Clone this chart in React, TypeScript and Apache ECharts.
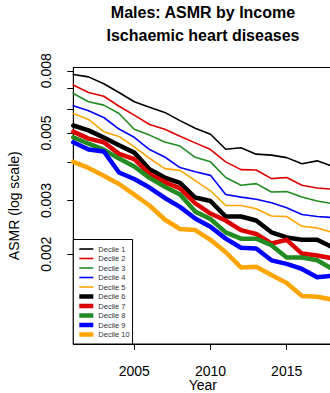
import React, { useEffect, useRef } from "react";
import * as echarts from "echarts";

const years = [2001, 2002, 2003, 2004, 2005, 2006, 2007, 2008, 2009, 2010, 2011, 2012, 2013, 2014, 2015, 2016, 2017, 2018];

const decile1 = [0.00778, 0.00764, 0.00725, 0.00679, 0.00633, 0.00607, 0.00584, 0.00549, 0.00518, 0.00495, 0.00442, 0.00447, 0.00426, 0.00423, 0.00415, 0.00396, 0.00405, 0.00389];
const decile2 = [0.00718, 0.00679, 0.0066, 0.00612, 0.00572, 0.00533, 0.00514, 0.00488, 0.00464, 0.00441, 0.00402, 0.00379, 0.00378, 0.00354, 0.00357, 0.00337, 0.0033, 0.00327];
const decile3 = [0.00674, 0.00633, 0.00617, 0.00579, 0.00514, 0.00492, 0.00467, 0.00453, 0.00416, 0.00402, 0.00357, 0.00337, 0.00341, 0.0032, 0.00321, 0.00308, 0.00299, 0.00293];
const decile4 = [0.00614, 0.00591, 0.00562, 0.00515, 0.00484, 0.00441, 0.00417, 0.00385, 0.00373, 0.00363, 0.00314, 0.00308, 0.00303, 0.00295, 0.00284, 0.0027, 0.00266, 0.00264];
const decile5 = [0.00579, 0.00554, 0.00505, 0.00487, 0.0045, 0.00413, 0.00382, 0.00377, 0.00349, 0.00323, 0.00289, 0.00289, 0.00282, 0.00267, 0.00266, 0.00247, 0.00244, 0.00236];
const decile6 = [0.00529, 0.0051, 0.00483, 0.00456, 0.00431, 0.0038, 0.00357, 0.00343, 0.00307, 0.00299, 0.00266, 0.00266, 0.00258, 0.00236, 0.00227, 0.00223, 0.00223, 0.00211];
const decile7 = [0.00505, 0.00479, 0.00466, 0.00427, 0.0041, 0.00367, 0.00345, 0.00329, 0.00294, 0.00272, 0.00258, 0.0024, 0.00233, 0.00217, 0.00223, 0.00201, 0.00198, 0.00194];
const decile8 = [0.00484, 0.00461, 0.00441, 0.00412, 0.00388, 0.00356, 0.00333, 0.00314, 0.00276, 0.00261, 0.00236, 0.00225, 0.00225, 0.00214, 0.00195, 0.00195, 0.00191, 0.00179];
const decile9 = [0.00466, 0.00441, 0.00435, 0.00371, 0.00353, 0.00331, 0.00306, 0.00286, 0.00262, 0.00246, 0.00225, 0.0021, 0.00209, 0.00191, 0.00186, 0.00179, 0.00168, 0.0017];
const decile10 = [0.00402, 0.00384, 0.00362, 0.0034, 0.00314, 0.00289, 0.0026, 0.00242, 0.0024, 0.00223, 0.00203, 0.00181, 0.00182, 0.00171, 0.00161, 0.00146, 0.00145, 0.00142];

const seriesNames = ["Decile 1", "Decile 2", "Decile 3", "Decile 4", "Decile 5", "Decile 6", "Decile 7", "Decile 8", "Decile 9", "Decile 10"];
const seriesData = [decile1, decile2, decile3, decile4, decile5, decile6, decile7, decile8, decile9, decile10];
const seriesColors = ["#000000", "#DD0000", "#228B22", "#0000FF", "#FFA500", "#000000", "#DD0000", "#228B22", "#0000FF", "#FFA500"];
const seriesWidths = [1.6, 1.6, 1.6, 1.6, 1.6, 4.5, 4.5, 4.5, 4.5, 4.5];

const xTickValues = [2005, 2010, 2015];
const yTickValues = [0.002, 0.003, 0.004, 0.005, 0.006, 0.007, 0.008];
const yLabelValues = [0.002, 0.003, 0.005, 0.008];
const gridLineValues = [0.00143, 0.00203, 0.00287, 0.00408, 0.00578];

const FONT = "'Liberation Sans', Arial, Helvetica, sans-serif";

export default function App() {
  const ref = useRef<HTMLDivElement>(null);
  useEffect(() => {
    if (!ref.current) return;
    const chart = echarts.init(ref.current, null, { renderer: "svg" });
    const lineSeries = seriesNames.map((name, i) => ({
      name,
      type: "line",
      data: years.map((yr, j) => [yr, seriesData[i][j]]),
      symbol: "none",
      showSymbol: false,
      z: 3,
      lineStyle: { color: seriesColors[i], width: seriesWidths[i], cap: "round", join: "round" },
      itemStyle: { color: seriesColors[i] },
    }));
    const gridSeries = {
      name: "grid",
      type: "line",
      data: years.map((yr, j) => [yr, decile1[j]]),
      symbol: "none",
      silent: true,
      z: 1,
      lineStyle: { opacity: 0 },
      markLine: {
        silent: true,
        symbol: ["none", "none"],
        label: { show: false },
        lineStyle: { type: [3, 3], color: "#c4c4c4", width: 1 },
        data: gridLineValues.map((v) => ({ yAxis: v })),
      },
    };
    const legendData = seriesNames.map((name, i) => {
      const w = seriesWidths[i];
      return {
        name,
        icon: `path://M0,0L14,0L14,${w}L0,${w}Z`,
        itemStyle: { color: seriesColors[i], borderWidth: 0 },
      };
    });
    chart.setOption({
      animation: false,
      backgroundColor: "#ffffff",
      textStyle: { fontFamily: FONT },
      title: {
        text: "Males: ASMR by Income\nIschaemic heart diseases",
        left: 203,
        top: 1,
        textAlign: "center",
        padding: 0,
        textStyle: { fontFamily: FONT, fontSize: 16, fontWeight: "bold", lineHeight: 23, color: "#000" },
      },
      grid: {
        left: 73.3,
        right: -2.4,
        top: 67.5,
        bottom: 49,
        show: true,
        borderColor: "#000",
        borderWidth: 1,
        containLabel: false,
        outerBoundsMode: "none",
      },
      legend: {
        data: legendData,
        orient: "vertical",
        left: 73.3,
        bottom: 49,
        itemWidth: 14,
        itemHeight: 7,
        itemGap: 1.5,
        symbolKeepAspect: true,
        padding: [5.5, 3, 5.5, 6],
        backgroundColor: "#fff",
        borderColor: "#000",
        borderWidth: 1,
        borderRadius: 0,
        textStyle: { fontFamily: FONT, fontSize: 7.5, color: "#333" },
        z: 10,
      },
      xAxis: {
        type: "value",
        min: 2001,
        max: 2018,
        name: "Year",
        nameLocation: "middle",
        nameGap: 34,
        nameMoveOverlap: false,
        nameTextStyle: { fontFamily: FONT, fontSize: 14, color: "#000" },
        axisLine: { show: true, lineStyle: { color: "#000", width: 1 } },
        axisTick: { show: true, length: 6, customValues: xTickValues, lineStyle: { color: "#000" } },
        axisLabel: {
          customValues: xTickValues,
          fontSize: 14,
          color: "#000",
          margin: 20,
          fontFamily: FONT,
          formatter: (v: number) => String(Math.round(v)),
        },
        splitLine: { show: false },
      },
      yAxis: {
        type: "log",
        logBase: 10,
        min: 0.001015,
        max: 0.0082,
        name: "ASMR (log scale)",
        nameLocation: "middle",
        nameGap: 52,
        nameRotate: 90,
        nameMoveOverlap: false,
        nameTextStyle: { fontFamily: FONT, fontSize: 14, color: "#000" },
        axisLine: { show: true, lineStyle: { color: "#000", width: 1 } },
        axisTick: { show: true, length: 6, customValues: yTickValues, lineStyle: { color: "#000" } },
        axisLabel: {
          customValues: yLabelValues,
          rotate: 90,
          fontSize: 14,
          color: "#000",
          margin: 20,
          fontFamily: FONT,
          formatter: (v: number) => Number(v).toFixed(3),
        },
        splitLine: { show: false },
      },
      series: [gridSeries, ...lineSeries],
    });
    return () => chart.dispose();
  }, []);
  return (
    <div style={{ position: "fixed", left: 0, top: 0, width: 330, height: 393, background: "#fff" }}>
      <div ref={ref} style={{ width: 330, height: 393 }} />
    </div>
  );
}
